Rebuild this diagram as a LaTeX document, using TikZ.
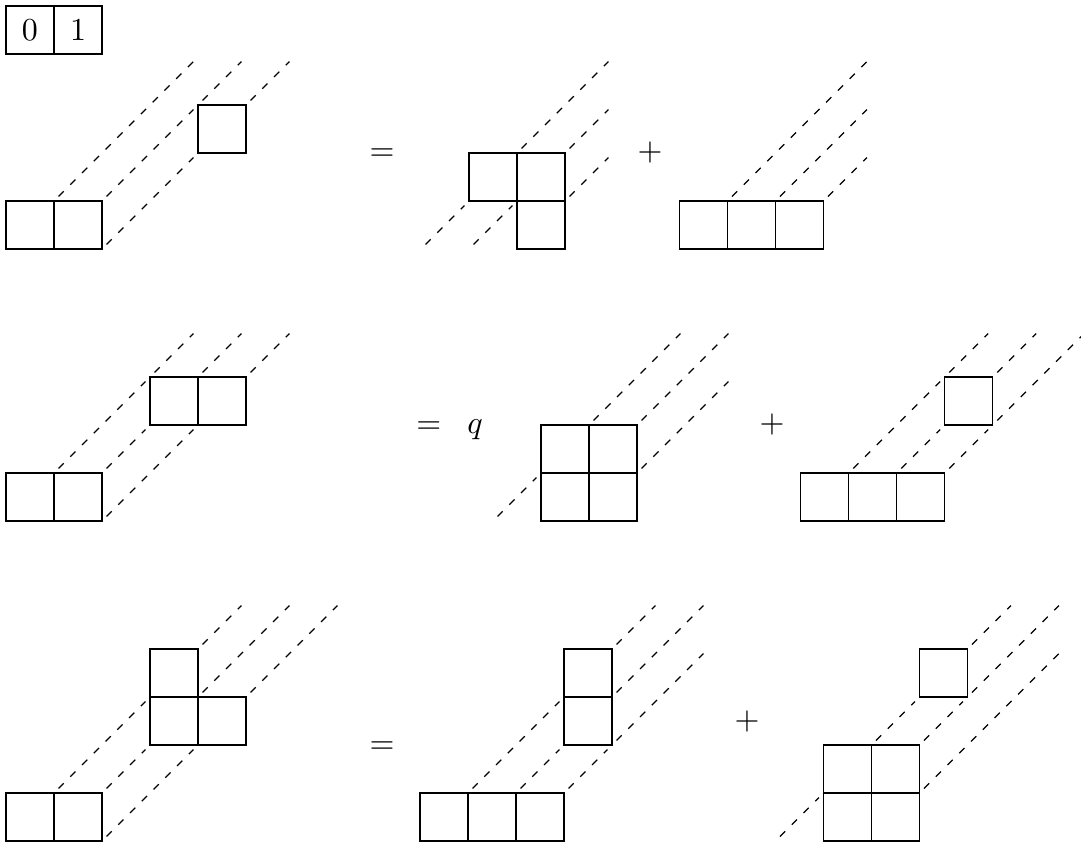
\documentclass[tikz,border=0pt]{standalone}
\usepackage{tikz}
\usetikzlibrary{positioning}
\begin{document}
\begin{tikzpicture}[
  x=15pt, y=15pt,
  cell/.style={draw=black},
  strand/.style={dash pattern=on 2.3pt off 2.9pt, shorten <=2pt, shorten >=2pt},
  op/.style={anchor=base, inner sep=0pt},
  tag/.style={draw, minimum size=15pt, inner sep=0pt, outer sep=0pt},
]
  \useasboundingbox (-0.125,-0.104) rectangle (22.396,17.521);

  \node[tag] (zero) at (0.5,16.896) {0};
  \node[tag, right=0pt of zero] (one) {1};

  \begin{scope}[shift={(0,12.333)}]
    \foreach \p in {(0,0),(1,0),(4,2)} \draw[cell] \p rectangle ++(1,1);
    \foreach \a/\b/\c/\d in {1/1/4/4, 2/1/4/3, 4/3/5/4, 2/0/4/2, 5/3/6/4}
      \draw[strand] (\a,\b) -- (\c,\d);
  \end{scope}
  \begin{scope}[shift={(10.646,12.333)}]
    \foreach \p in {(-1,1),(0,1),(0,0)} \draw[cell] \p rectangle ++(1,1);
    \foreach \a/\b/\c/\d in {-2/0/-1/1, 0/2/2/4, -1/0/0/1, 1/2/2/3, 1/1/2/2}
      \draw[strand] (\a,\b) -- (\c,\d);
  \end{scope}
  \begin{scope}[shift={(14.03,12.333)}]
    \foreach \p in {(0,0),(1,0),(2,0)} \draw[cell] \p rectangle ++(1,1);
    \foreach \a/\b/\c/\d in {1/1/4/4, 2/1/4/3, 3/1/4/2}
      \draw[strand] (\a,\b) -- (\c,\d);
  \end{scope}
  \node[op] (eqA) at (7.833,14.167) {$=$};
  \node[op] (plusA) at (13.417,14.167) {$+$};

  \begin{scope}[shift={(0,6.667)}]
    \foreach \p in {(0,0),(1,0),(3,2),(4,2)} \draw[cell] \p rectangle ++(1,1);
    \foreach \a/\b/\c/\d in {1/1/3/3, 3/3/4/4, 2/1/3/2, 4/3/5/4, 2/0/4/2, 5/3/6/4}
      \draw[strand] (\a,\b) -- (\c,\d);
  \end{scope}
  \begin{scope}[shift={(11.146,6.667)}]
    \foreach \p in {(0,0),(1,0),(0,1),(1,1)} \draw[cell] \p rectangle ++(1,1);
    \foreach \a/\b/\c/\d in {-1/0/0/1, 1/2/3/4, 2/2/4/4, 2/1/4/3}
      \draw[strand] (\a,\b) -- (\c,\d);
  \end{scope}
  \begin{scope}[shift={(16.556,6.667)}]
    \foreach \p in {(0,0),(1,0),(2,0),(3,2)} \draw[cell] \p rectangle ++(1,1);
    \foreach \a/\b/\c/\d in {1/1/3/3, 3/3/4/4, 2/1/3/2, 4/3/5/4, 3/1/4/2, 4/2/6/4}
      \draw[strand] (\a,\b) -- (\c,\d);
  \end{scope}
  \node[op] (eqB) at (8.81,8.48) {$=$};
  \node[op] (qB) at (9.77,8.48) {$q$};
  \node[op] (plusB) at (15.96,8.51) {$+$};

  \begin{scope}
    \foreach \p in {(0,0),(1,0),(3,2),(4,2),(3,3)} \draw[cell] \p rectangle ++(1,1);
    \foreach \a/\b/\c/\d in {1/1/3/3, 4/4/5/5, 2/1/3/2, 4/3/6/5, 2/0/4/2, 5/3/7/5}
      \draw[strand] (\a,\b) -- (\c,\d);
  \end{scope}
  \begin{scope}[shift={(8.625,0)}]
    \foreach \p in {(0,0),(1,0),(2,0),(3,2),(3,3)} \draw[cell] \p rectangle ++(1,1);
    \foreach \a/\b/\c/\d in {1/1/3/3, 4/4/5/5, 2/1/3/2, 4/3/6/5, 3/1/4/2, 4/2/6/4}
      \draw[strand] (\a,\b) -- (\c,\d);
  \end{scope}
  \begin{scope}[shift={(17.03,0)}]
    \foreach \p in {(0,0),(1,0),(0,1),(1,1),(2,3)} \draw[cell] \p rectangle ++(1,1);
    \foreach \a/\b/\c/\d in {-1/0/0/1, 1/2/2/3, 3/4/4/5, 2/2/3/3, 3/3/5/5, 2/1/5/4}
      \draw[strand] (\a,\b) -- (\c,\d);
  \end{scope}
  \node[op] (eqC) at (7.833,1.833) {$=$};
  \node[op] (plusC) at (15.44,2.333) {$+$};
\end{tikzpicture}
\end{document}
